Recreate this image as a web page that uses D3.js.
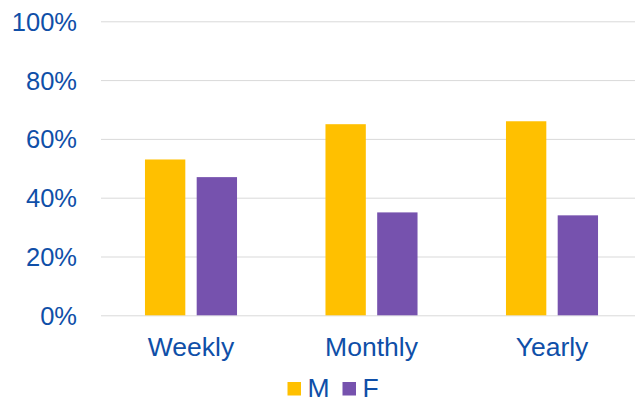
<!DOCTYPE html>
<html>
<head>
<meta charset="utf-8">
<script src="https://cdn.jsdelivr.net/npm/d3@7"></script>
<style>
  body { margin: 0; background: #fff; }
  text { font-family: "Liberation Sans", Arial, sans-serif; fill: #0f4fa8; }
</style>
</head>
<body>
<div id="plotdiv"></div>
<script>
// Size of figure
var outerWidth = 635;
var outerHeight = 402;

// Data
var categories = ["Weekly", "Monthly", "Yearly"];
var seriesNames = ["M", "F"];
var valuesM = [53, 65, 66];
var valuesF = [47, 35, 34];
var yTicks = [0, 20, 40, 60, 80, 100];

var colours = { M: "#ffc000", F: "#7652ae" };

var vis = d3.select("#plotdiv").append("svg")
  .attr("width", outerWidth)
  .attr("height", outerHeight);

// Scales
var yScale = d3.scaleLinear()
  .domain([0, 100])
  .range([315.3, 21.3]);

var x0 = d3.scaleBand()
  .domain(categories)
  .range([100.75, 642.25])
  .paddingInner(0.49)
  .paddingOuter(0.245);

var x1 = d3.scaleBand()
  .domain(seriesNames)
  .range([0, x0.bandwidth()])
  .paddingInner(0.22);

// Gridlines + y labels
var axisY = d3.axisLeft(yScale)
  .tickValues(yTicks)
  .tickSize(-(outerWidth - 101))
  .tickPadding(24)
  .tickFormat(function(d) { return d + "%"; });

var gAxisY = vis.append("g")
  .attr("transform", "translate(101,0)")
  .call(axisY);
gAxisY.select(".domain").remove();
gAxisY.selectAll("line").attr("stroke", "#d9d9d9").attr("stroke-width", 1);
gAxisY.selectAll("text")
  .attr("font-size", 25.5)
  .attr("fill", "#0f4fa8")
  .attr("dy", "0.35em");

// Bars
var rows = categories.map(function(c, i) {
  return { cat: c, vals: [{ s: "M", v: valuesM[i] }, { s: "F", v: valuesF[i] }] };
});

var groups = vis.selectAll("g.cat").data(rows).enter().append("g")
  .attr("class", "cat")
  .attr("transform", function(d) { return "translate(" + x0(d.cat) + ",0)"; });

groups.selectAll("rect").data(function(d) { return d.vals; }).enter().append("rect")
  .attr("x", function(d) { return x1(d.s); })
  .attr("y", function(d) { return yScale(d.v); })
  .attr("width", x1.bandwidth())
  .attr("height", function(d) { return yScale(0) - yScale(d.v); })
  .attr("fill", function(d) { return colours[d.s]; });

// Category labels
vis.selectAll("text.cat").data(categories).enter().append("text")
  .attr("class", "cat")
  .attr("x", function(d) { return x0(d) + x0.bandwidth() / 2; })
  .attr("y", 356)
  .attr("text-anchor", "middle")
  .attr("font-size", 26.5)
  .text(function(d) { return d; });

// Legend
var legendX = [287.5, 342.5];
var gLegend = vis.append("g");
var items = gLegend.selectAll("g").data(seriesNames).enter().append("g")
  .attr("transform", function(d, i) { return "translate(" + legendX[i] + ",0)"; });
items.append("rect")
  .attr("y", 382)
  .attr("width", 13.5)
  .attr("height", 13.5)
  .attr("fill", function(d) { return colours[d]; });
items.append("text")
  .attr("x", 20)
  .attr("y", 396.5)
  .attr("font-size", 26.5)
  .text(function(d) { return d; });
</script>
</body>
</html>
